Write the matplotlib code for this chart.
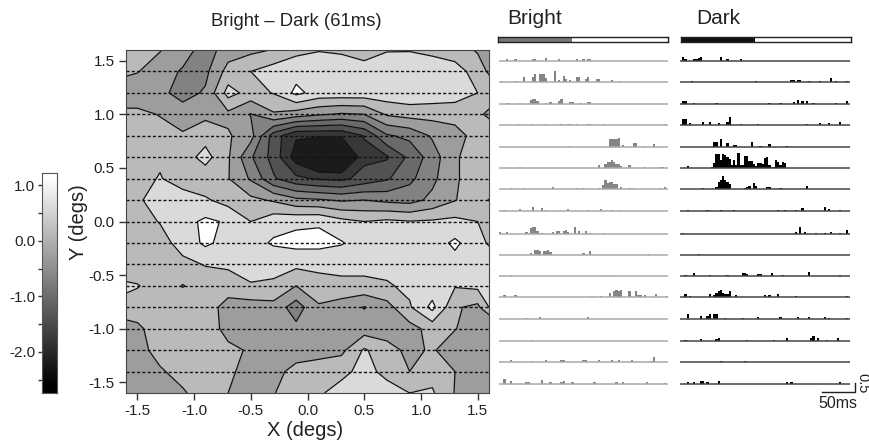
import numpy as np
import matplotlib
matplotlib.use("Agg")
import matplotlib.pyplot as plt

plt.rcParams['font.family'] = ['Liberation Sans', 'DejaVu Sans']

W, H = 869.0, 443.0

# contour grid, deg
map_x = [-1.7, -1.5, -1.3, -1.1, -0.9, -0.7, -0.5, -0.3, -0.1, 0.1, 0.3, 0.5, 0.7, 0.9, 1.1, 1.3, 1.5, 1.7]
map_y = [1.6, 1.4, 1.2, 1.0, 0.8, 0.6, 0.4, 0.2, 0.0, -0.2, -0.4, -0.6, -0.8, -1.0, -1.2, -1.4, -1.6]
map_z = [
    [.45, .38, .22, .0, -.4, .0, .1, .22, .5, .58, .55, .5, .58, .58, .5, .42, .15, -.1],
    [.35, .22, .0, -.25, -.3, .35, .6, .8, .85, .85, .8, .7, .8, .85, .85, .75, .45, -.2],
    [-.05, -.05, -.1, -.35, -.15, .75, .45, .62, 1.1, .85, .85, .85, .85, .9, .85, .8, .6, .3],
    [.3, .3, .18, .0, .1, .1, -.22, .15, .0, -.15, -.25, -.2, .25, .35, .35, .35, .3, -.1],
    [.35, .35, .35, .25, .45, .25, -.05, -1.2, -1.75, -1.75, -1.75, -1.38, -.65, -.5, -.15, .05, .35, .4],
    [.35, .55, .55, .4, .75, .25, -.55, -1.15, -2.0, -2.6, -2.6, -1.5, -1.45, -.9, -.4, .15, .4, .45],
    [.4, .5, .62, .45, .35, .22, -.25, -.95, -1.3, -1.45, -1.5, -1.25, -1.05, -.7, -.3, .15, .4, .45],
    [.45, .55, .75, .75, .65, .45, .3, .15, -.1, -.15, -.25, -.2, -.3, -.35, -.1, .18, .45, -.1],
    [.4, .45, .62, .85, 1.08, .95, .6, .85, .92, .95, .72, .6, .68, .62, .65, .7, .6, .5],
    [.4, .4, .45, .75, 1.08, .85, .85, 1.05, 1.12, 1.12, 1.03, .8, .85, .8, .8, 1.08, .75, .35],
    [.15, .4, .45, .5, .62, .65, .7, .7, .7, .7, .72, .72, .75, .85, .85, .85, .75, .7],
    [.8, .62, .45, .18, .4, .45, .58, .55, .2, .45, .5, .5, .55, .7, .75, .63, .7, .85],
    [.45, .45, .45, .45, .45, .0, .0, .05, -.4, .15, .0, -.22, .05, .55, 1.12, .25, .1, 1.1],
    [-.1, .1, .45, .45, .45, .05, -.05, -.05, -.1, -.05, -.05, .0, .0, .05, .35, .22, -.05, -.05],
    [-.05, .05, .35, .45, .45, .3, .15, .05, .05, .05, .1, .65, .35, .1, .25, -.05, -.1, -.1],
    [-.25, .0, .15, .35, .45, .25, .1, .1, .3, .4, .5, .72, .5, .2, .45, .2, -.05, -.1],
    [-.1, -.1, .0, .15, .4, .2, .05, .18, .4, .55, .75, .8, .75, .6, .65, .18, -.1, -.1],
]
map_levels = [-3.0, -1.8, -1.4, -1.0, -0.6, -0.2, 0.2, 0.6, 1.0, 2.0]
map_colors = ['#1b1b1b', '#383838', '#525252', '#6a6a6a', '#828282', '#9d9d9d', '#bababa', '#dadada', '#ffffff']
dash_rows = [1.4, 1.2, 1.0, 0.8, 0.6, 0.4, 0.2, 0.0, -0.2, -0.4, -0.6, -0.8, -1.0, -1.2, -1.4]

# PSTH rows: (bin, height)
bright_rows = [
    [(3, .3), (7, .3), (15, .3), (16, .3), (21, .8), (27, .3), (35, .3), (38, .3), (40, .3), (41, .3)],
    [(1, .2), (7, .2), (11, 2), (15, 2), (16, 3.5), (18, 3.5), (19, 3.5), (20, 3.5), (21, 1.5), (25, 5), (27, .5), (29, 2.5), (30, 1), (32, .5), (35, 2), (36, 2), (39, 1), (40, 2), (44, 1), (45, 1), (51, .5), (55, .2)],
    [(3, .2), (4, .2), (9, .2), (14, 1.5), (15, 2.2), (16, 2), (17, 1), (21, .3), (23, .8), (27, 1), (28, 2), (32, .7), (33, .7), (37, .2), (40, .8), (41, .8)],
    [(8, .2), (15, .5), (21, .2), (28, .5), (31, .5), (32, .5), (35, .5), (40, .5), (41, .5), (47, .2), (71, .2), (75, .2)],
    [(32, .2), (50, 3.5), (51, 3.5), (52, 3.5), (53, 3.5), (54, 4.2), (56, .3), (61, 1.5), (62, 1.5), (65, .2), (70, .8)],
    [(9, .2), (45, 1.5), (48, 2), (49, 3), (50, 3), (51, 4), (52, 3), (53, 2), (54, 1.7), (55, .8), (59, 1.3), (66, .5), (73, .5), (74, .5)],
    [(5, .2), (11, .2), (24, .7), (31, .2), (35, .2), (38, .2), (45, .2), (47, 2), (48, 4.5), (49, 3), (50, 3.5), (51, 3.5), (52, 2.5), (53, 2.5), (55, .8), (59, .3), (61, .3), (73, .5), (75, .7)],
    [(2, .2), (9, .3), (15, 1.5), (19, 1), (21, .2), (31, .7), (40, .2), (46, .7), (51, .2), (54, .2)],
    [(0, .7), (3, .7), (12, .5), (14, 2.5), (15, 3), (16, 3), (17, 1), (19, .3), (24, .5), (26, 1), (27, 1), (29, 1), (30, 1.5), (31, .7), (34, 3.3), (36, 1.3), (39, 1.3), (41, .2), (47, .2)],
    [(9, .2), (14, .7), (16, 2.5), (17, 2.5), (18, 2), (20, 2), (21, 2), (22, 2.3), (23, 1.5), (38, .7), (41, 2), (68, .1)],
    [(5, .2), (49, .2)],
    [(2, .8), (7, .8), (42, .1), (46, .2), (50, 2), (52, 3), (53, 3.3), (54, 3), (55, 3.3), (59, 2.8), (62, 2.8), (63, 1), (64, 1), (66, .7), (71, 1.2), (76, .2)],
    [(12, .2), (18, .3), (40, .3)],
    [(15, .2)],
    [(5, .7), (15, .2), (21, .7), (28, .6), (29, .7), (38, .7), (39, .7), (45, .7), (51, .7), (54, .6), (60, .6), (69, .2), (70, 2.2)],
    [(2, 2.2), (5, .8), (12, .7), (13, .7), (19, 1.5), (23, .3), (28, .7), (29, .8), (33, .7), (43, .7), (53, .7), (56, .7), (67, .7), (75, .2)],
]
dark_rows = [
    [(1, 1.5), (2, .3), (6, .7), (7, .7), (8, 1), (9, 1.5), (18, 1.5), (21, .3), (27, .3)],
    [(5, .2), (34, .2), (50, .8), (51, .8), (53, .8), (54, .8), (58, .2), (63, .2), (68, 1.5), (70, .3), (75, .2)],
    [(1, 1), (2, 1), (6, .2), (16, .2), (40, .2), (45, .2), (51, .5), (53, 1.5), (55, 1), (57, 1), (60, .3), (70, .2), (75, 1)],
    [(1, 2.7), (2, 2.7), (4, .7), (10, 1.5), (13, 1.5), (17, .7), (21, 1.5), (22, 3.7), (27, .2), (35, .2), (57, .2), (63, 1), (67, .8), (72, 1.5)],
    [(15, 2), (16, 2), (18, 3.5), (21, 1.5), (24, .5), (25, .5), (32, 2), (36, .2), (40, 1), (48, .2)],
    [(3, 1), (14, .5), (15, 2.5), (16, 7), (17, 7), (18, 4), (19, 7), (20, 6.5), (21, 5.5), (22, 4.5), (23, 1.5), (24, 4), (25, 1.5), (26, 7.5), (27, 1.5), (28, 1.5), (29, 6), (30, 6), (31, 3.5), (32, 3.5), (33, 2), (34, 1), (35, 2.5), (36, 2.5), (37, 2), (38, 5), (39, 5.5), (40, 1.2), (41, .5), (42, .5), (43, 4), (44, 3), (45, 1.2), (46, 3), (47, 2.5)],
    [(10, .3), (16, 1), (17, 3.5), (18, 4.5), (19, 6.5), (20, 4.5), (21, 3.5), (22, 2.5), (29, .5), (30, 1), (31, 1.5), (33, 3), (34, 1.5), (39, .7), (40, 1), (45, .3), (57, 1.2)],
    [(3, .2), (12, .2), (18, .2), (24, .2), (44, .2), (47, .2), (52, .2), (55, .8), (65, 1.5), (67, .3), (72, .2)],
    [(1, .3), (52, .5), (54, 3), (56, .7), (61, .2), (65, .2), (68, .7), (72, .3), (75, 1.5)],
    [(8, .3)],
    [(2, .2), (6, 1), (13, .2), (21, .2), (28, 1), (29, 1), (30, .7), (35, .7), (36, .7), (41, .8), (46, .2), (58, 1.5), (72, .2)],
    [(2, 1.3), (4, .3), (13, 1.3), (15, 1), (16, 2), (17, 3), (18, 3.5), (19, 2), (20, 1.3), (21, 1.3), (22, 3), (25, .8), (38, .9), (40, .7), (44, 1.5), (52, .3), (75, .3)],
    [(3, 1.8), (9, .8), (12, 1), (13, 2), (15, 2), (16, 2), (20, .2), (28, .2), (35, .7), (45, .7), (53, .7), (58, .7), (65, .7), (67, .2), (75, .2)],
    [(2, .2), (9, .3), (16, .5), (17, .8), (30, .2), (42, .2), (48, 1), (59, 1), (60, 1.8), (62, 1), (66, .2), (71, .8)],
    [(18, .2), (29, .2)],
    [(3, .3), (6, .3), (9, .8), (10, .8), (12, .3), (17, .8), (48, .3), (50, .3), (72, .3)],
]
row_px = [60.7, 82, 104, 125.3, 146.7, 168.3, 189.3, 210.7, 234, 255.3, 275.7, 297.3, 318.7, 340.7, 362.3, 383.7]

map_ticks = [-1.5, -1.0, -0.5, 0.0, 0.5, 1.0, 1.5]
cbar_ticks = [1.0, 0.0, -1.0, -2.0]
cbar_minor = [0.5, -0.5, -1.5, -2.5]


def px_axes(fig, x0, y0, x1, y1):
    return fig.add_axes([x0 / W, 1 - y1 / H, (x1 - x0) / W, (y1 - y0) / H])


def draw_psth(fig, x0, x1, rows, bar_col, base_col):
    ax = px_axes(fig, x0, 44, x1, 394)
    ax.set_xlim(0, 77)
    ax.set_ylim(394, 44)
    ax.axis('off')
    for base, row in zip(row_px, rows):
        ax.plot([0, 77], [base, base], color=base_col, lw=1.1, solid_capstyle='butt')
        bins = [b for b, h in row]
        # 1 count is about 2 px, plus a bit so low bins clear the baseline
        hts = [-(h * 2 + 0.7) for b, h in row]
        ax.bar(bins, hts, width=1.0, bottom=base, align='edge', color=bar_col, lw=0)
    return ax


def stim_bar(fig, x0, x1, col):
    ax = px_axes(fig, x0, 37, x1, 42)
    ax.set_xlim(0, 2)
    ax.set_ylim(0, 1)
    ax.set_xticks([])
    ax.set_yticks([])
    ax.barh([0.5], [0.87], height=1, left=0, color=col, lw=0)
    for s in ax.spines.values():
        s.set_linewidth(1.0)
        s.set_color('#222222')


def main():
    fig = plt.figure(figsize=(8.69, 4.43), dpi=100)

    ax = px_axes(fig, 126, 50, 489, 393)
    ax.contourf(map_x, map_y, map_z, levels=map_levels, colors=map_colors)
    ax.contour(map_x, map_y, map_z, levels=map_levels[1:-1], colors='#111111', linewidths=0.9, linestyles='solid')
    for y in dash_rows:
        ax.plot([-1.6, 1.6], [y, y], color='#111111', lw=1.0, dashes=(2.2, 1.6))
    ax.set_xlim(-1.6, 1.6)
    ax.set_ylim(-1.6, 1.6)
    ax.set_xticks(map_ticks)
    ax.set_yticks(map_ticks)
    ax.set_xticklabels(['%.1f' % t for t in map_ticks])
    ax.set_yticklabels(['%.1f' % t for t in map_ticks])
    ax.tick_params(labelsize=11, length=5, width=1.0, color='#333333', labelcolor='#222222', pad=3)
    for s in ax.spines.values():
        s.set_color('#444444')
    fig.text(296 / W, 1 - 22 / H, 'Bright \u2013 Dark (61ms)', fontsize=13.3, ha='center', va='center', color='#222222')
    fig.text(305 / W, 1 - 430 / H, 'X (degs)', fontsize=14.5, ha='center', va='center', color='#222222')
    fig.text(78 / W, 1 - 222 / H, 'Y (degs)', fontsize=14.5, ha='center', va='center', rotation=90, color='#222222')

    # colour bar
    cax = px_axes(fig, 42, 173, 57, 393)
    grad = np.linspace(1.22, -2.74, 256).reshape(-1, 1)
    cax.imshow(grad, aspect='auto', cmap='gray', vmin=-2.6, vmax=1.15, extent=[0, 1, -2.74, 1.22])
    cax.set_xticks([])
    cax.set_yticks(cbar_ticks)
    cax.set_yticks(cbar_minor, minor=True)
    cax.set_yticklabels(['%.1f' % t for t in cbar_ticks])
    cax.tick_params(labelsize=11, length=3, width=1.0, color='#333333', labelcolor='#222222', pad=2)
    cax.tick_params(which='minor', length=3, width=1.0, color='#333333')
    for s in cax.spines.values():
        s.set_color('#555555')

    # PSTH columns
    draw_psth(fig, 499, 668, bright_rows, '#858585', '#aaaaaa')
    draw_psth(fig, 680, 850, dark_rows, '#000000', '#444444')
    stim_bar(fig, 498, 668, '#777777')
    stim_bar(fig, 681, 851, '#111111')
    fig.text(507 / W, 1 - 19 / H, 'Bright', fontsize=15, ha='left', va='center', color='#222222')
    fig.text(696 / W, 1 - 19 / H, 'Dark', fontsize=15, ha='left', va='center', color='#222222')

    # scale bar
    sax = px_axes(fig, 0, 0, W, H)
    sax.set_xlim(0, W)
    sax.set_ylim(H, 0)
    sax.axis('off')
    sax.patch.set_alpha(0)
    sax.plot([822, 855, 855], [392, 392, 382.5], color='#222222', lw=1.0)
    sax.text(838, 403, '50ms', fontsize=11.5, ha='center', va='center', color='#222222')
    sax.text(862, 383, '0.5', fontsize=10.5, ha='center', va='center', rotation=-90, color='#222222')

    fig.savefig('out.png', dpi=100)


if __name__ == "__main__":
    main()
